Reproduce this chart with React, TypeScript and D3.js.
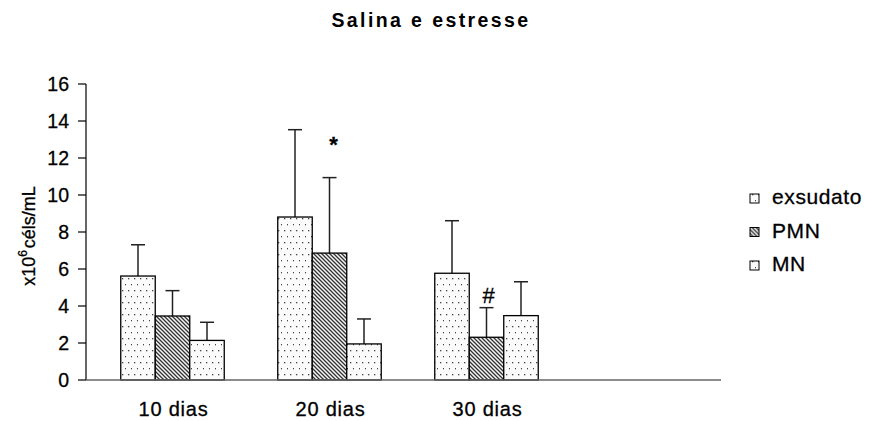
import React from "react";
import * as d3 from "d3";

const title = "Salina e estresse";
const categories = ["10 dias", "20 dias", "30 dias", ""];
const seriesNames = ["exsudato", "PMN", "MN"];
const exsudato = [5.62, 8.81, 5.77];
const exsudatoErr = [1.69, 4.72, 2.84];
const pmn = [3.46, 6.86, 2.31];
const pmnErr = [1.37, 4.08, 1.6];
const mn = [2.14, 1.95, 3.48];
const mnErr = [0.98, 1.35, 1.83];
const yTicks = [0, 2, 4, 6, 8, 10, 12, 14, 16];
const annotations = [
  { cat: "20 dias", series: "PMN", text: "*", value: 12.75 },
  { cat: "30 dias", series: "PMN", text: "#", value: 4.6 },
];

const seriesValues = [exsudato, pmn, mn];
const seriesErrors = [exsudatoErr, pmnErr, mnErr];
const fills = ["url(#dots)", "url(#hatch)", "url(#dots)"];

const FONT = "'Liberation Sans', Arial, Helvetica, sans-serif";
const thick = { stroke: "#000", strokeWidth: 0.3 };

export default function App() {
  const W = 874;
  const H = 421;
  const axisX = 86;
  const axisEnd = 721;
  const y = d3.scaleLinear().domain([0, 16]).range([380, 84]);
  const x = d3.scaleBand().domain(categories).range([94, 722]);
  const inner = d3.scaleBand().domain(seriesNames).range([-51.75, 51.75]);
  const bw = inner.bandwidth();

  const bars: any[] = [];
  seriesNames.forEach((s, si) => {
    seriesValues[si].forEach((v, ci) => {
      const cat = categories[ci];
      const cx = (x(cat) as number) + x.bandwidth() / 2;
      bars.push({ s, si, v, e: seriesErrors[si][ci], x0: cx + (inner(s) as number) });
    });
  });

  return (
    <div style={{ position: "fixed", left: 0, top: 0 }}>
      <svg width={W} height={H} style={{ display: "block", background: "#fff" }}>
        <defs>
          <pattern id="dots" width="6" height="12" patternUnits="userSpaceOnUse">
            <rect width="6" height="12" fill="#fbfbfb" />
            <rect x="2" y="2" width="1.3" height="1.3" fill="#444" />
            <rect x="5" y="8" width="1.3" height="1.3" fill="#444" />
          </pattern>
          <pattern id="hatch" width="4" height="4" patternUnits="userSpaceOnUse">
            <rect width="4" height="4" fill="#f4f4f4" />
            <path d="M-1,-1 L5,5 M-1,3 L1,5 M3,-1 L5,1" stroke="#333" strokeWidth="1.3" />
          </pattern>
        </defs>

        <text x={431} y={27} textAnchor="middle" fontFamily={FONT} fontWeight="bold" fontSize={19.5} letterSpacing={2.4} fill="#000">
          {title}
        </text>

        {/* y axis */}
        <line x1={axisX} x2={axisX} y1={y(16)} y2={y(0)} stroke="#000" strokeWidth={1.2} />
        {yTicks.map((t) => (
          <g key={t}>
            <line x1={axisX - 8} x2={axisX} y1={y(t)} y2={y(t)} stroke="#000" strokeWidth={1.2} />
            <text x={69} y={y(t)} dy="0.36em" textAnchor="end" fontFamily={FONT} fontSize={19.5} fill="#000" {...thick}>
              {t}
            </text>
          </g>
        ))}
        <text transform={`translate(35,236) rotate(-90)`} textAnchor="middle" fontFamily={FONT} fontSize={18} fill="#000" {...thick}>
          x10<tspan dy="-8" fontSize={12}>6</tspan>
          <tspan dy="8" dx="2">céls/mL</tspan>
        </text>

        {/* bars */}
        {bars.map((b, i) => (
          <g key={i}>
            <line x1={b.x0 + bw / 2} x2={b.x0 + bw / 2} y1={y(b.v)} y2={y(b.v + b.e)} stroke="#222" strokeWidth={1.5} />
            <line x1={b.x0 + bw / 2 - 7} x2={b.x0 + bw / 2 + 7} y1={y(b.v + b.e)} y2={y(b.v + b.e)} stroke="#222" strokeWidth={1.5} />
            <rect x={b.x0} y={y(b.v)} width={bw} height={y(0) - y(b.v)} fill={fills[b.si]} stroke="#000" strokeWidth={1.3} />
          </g>
        ))}

        {/* x axis */}
        <line x1={axisX} x2={axisEnd} y1={y(0)} y2={y(0)} stroke="#666" strokeWidth={1.6} />
        {categories.filter((c) => c).map((c) => (
          <text key={c} x={(x(c) as number) + x.bandwidth() / 2 + 1} y={416} textAnchor="middle" fontFamily={FONT} fontSize={20} letterSpacing={0.8} fill="#000" {...thick}>
            {c}
          </text>
        ))}

        {/* annotations */}
        {annotations.map((a, i) => (
          <text key={i} x={(x(a.cat) as number) + x.bandwidth() / 2 + (inner(a.series) as number) + bw / 2 + (a.text === "*" ? 4 : 2)} y={y(a.value)} dy="0.35em" textAnchor="middle" fontFamily={FONT} fontWeight={a.text === "*" ? "bold" : "normal"} fontSize={a.text === "*" ? 22 : 22} fill="#000" {...thick}>
            {a.text}
          </text>
        ))}

        {/* legend */}
        {seriesNames.map((s, i) => (
          <g key={s} transform={`translate(750,${204 + i * 33.5})`}>
            <rect x={0} y={-10} width={9} height={9} fill={fills[i]} stroke="#000" strokeWidth={1} />
            <text x={22} y={0} fontFamily={FONT} fontSize={21} letterSpacing={0.6} fill="#000" {...thick}>
              {s}
            </text>
          </g>
        ))}
      </svg>
    </div>
  );
}
